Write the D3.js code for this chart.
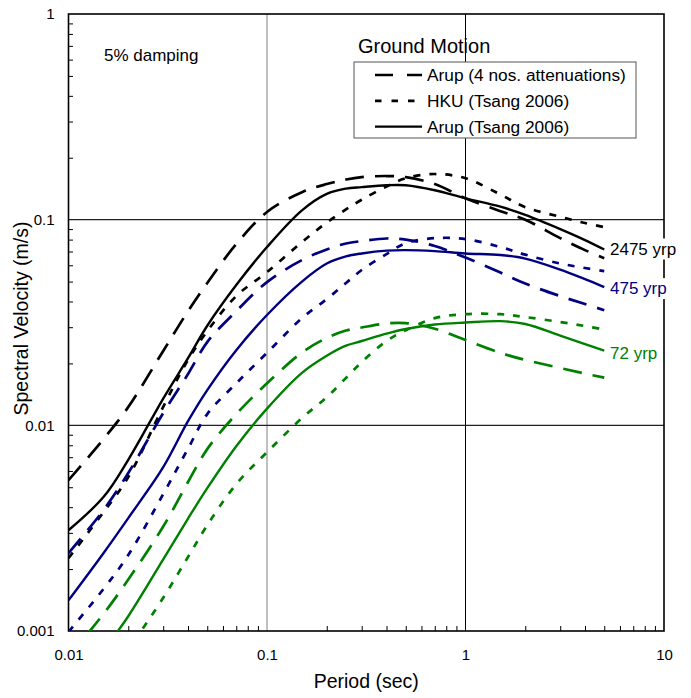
<!DOCTYPE html>
<html><head><meta charset="utf-8">
<script src="https://cdn.jsdelivr.net/npm/d3@7"></script>
<style>body{margin:0;background:#fff;} svg{display:block;font-family:"Liberation Sans",Arial,Helvetica,sans-serif;}</style>
</head><body><div id="chart"></div>
<script>
// ---- data (period in s, spectral velocity in m/s) ----
const periods = [0.01,0.015,0.02,0.03,0.04,0.05,0.07,0.1,0.15,0.2,0.25,0.3,0.4,0.5,0.7,1,1.5,2,3,4,5];

const arup4_2475   = [0.00541,0.00857,0.01227,0.0230,0.0359,0.0492,0.0761,0.109,0.136,0.149,0.1567,0.161,0.163,0.161,0.149,0.127,0.110,0.100,0.0813,0.0711,0.065];
const hku_2475     = [0.00226,0.00378,0.0056,0.0123,0.0208,0.0287,0.0425,0.0556,0.0778,0.0968,0.1122,0.125,0.145,0.159,0.1667,0.159,0.1325,0.115,0.1033,0.0963,0.092];
const arupTs_2475  = [0.00309,0.00448,0.0068,0.0135,0.0212,0.0305,0.0481,0.0736,0.111,0.1335,0.1416,0.144,0.147,0.147,0.139,0.127,0.1156,0.1055,0.090,0.0796,0.0716];

const arup4_475    = [0.00239,0.00387,0.00586,0.01147,0.01775,0.0254,0.0359,0.0497,0.0636,0.0716,0.0766,0.0787,0.081,0.080,0.0744,0.0654,0.0553,0.0489,0.0425,0.0389,0.0363];
const hku_475      = [0.00099,0.0016,0.00234,0.00463,0.0077,0.01134,0.016,0.0225,0.0332,0.0411,0.0492,0.0569,0.068,0.0769,0.0813,0.0805,0.0736,0.0676,0.0612,0.0582,0.0562];
const arupTs_475   = [0.00141,0.00239,0.00354,0.00626,0.01048,0.01484,0.0232,0.0344,0.0500,0.0612,0.0663,0.0685,0.0707,0.0711,0.0703,0.0685,0.0673,0.0647,0.0572,0.0514,0.047];

const arup4_72     = [0.00075,0.00121,0.00178,0.00322,0.0053,0.00766,0.01134,0.016,0.0226,0.0266,0.0289,0.0299,0.0313,0.0314,0.0295,0.026,0.0225,0.0208,0.019,0.01784,0.01706];
const hku_72       = [0.00032,0.000545,0.00081,0.00145,0.00229,0.00327,0.00518,0.0074,0.01084,0.0137,0.0170,0.0203,0.0257,0.029,0.0332,0.0347,0.0347,0.0336,0.0318,0.0304,0.0292];
const arupTs_72    = [0.00046,0.0008,0.00118,0.00223,0.00352,0.00495,0.00792,0.01206,0.01800,0.0218,0.0244,0.0257,0.0279,0.0294,0.0309,0.0316,0.0321,0.0311,0.0273,0.0248,0.0231];

const xTicks = [0.01,0.1,1,10];
const yTicks = [0.001,0.01,0.1,1];
const xTickLabels = ["0.01","0.1","1","10"];
const yTickLabels = ["0.001","0.01","0.1","1"];
const legendLabels = ["Arup (4 nos. attenuations)","HKU (Tsang 2006)","Arup (Tsang 2006)"];
const levelLabels = ["2475 yrp","475 yrp","72 yrp"];
const levelColors = ["#000000","#000080","#008000"];

// ---- layout ----
const W = 691, H = 698;
const L = 68.5, R = 664, T = 14, B = 631;
const x = d3.scaleLog().domain([0.01,10]).range([L,R]);
const y = d3.scaleLog().domain([0.001,1]).range([B,T]);

const svg = d3.select("#chart").append("svg").attr("width",W).attr("height",H);
svg.append("defs").append("clipPath").attr("id","clip")
  .append("rect").attr("x",L).attr("y",T).attr("width",R-L).attr("height",B-T);

// gridlines
svg.append("line").attr("x1",x(0.1)).attr("x2",x(0.1)).attr("y1",T).attr("y2",B).attr("stroke","#808080").attr("stroke-width",1);
svg.append("line").attr("x1",x(1)).attr("x2",x(1)).attr("y1",T).attr("y2",B).attr("stroke","#000").attr("stroke-width",1);
[0.1,0.01].forEach(v=>{
  svg.append("line").attr("x1",L).attr("x2",R).attr("y1",y(v)).attr("y2",y(v)).attr("stroke","#222").attr("stroke-width",1.3);
});

// minor ticks
const minor = [];
[-3,-2,-1].forEach(e=>{for(let k=2;k<=9;k++) minor.push(k*Math.pow(10,e));});
const minorX = [];
[-2,-1,0].forEach(e=>{for(let k=2;k<=9;k++) minorX.push(k*Math.pow(10,e));});
const gmy = svg.append("g").attr("transform",`translate(${L},0)`)
  .call(d3.axisLeft(y).tickValues(minor).tickSize(-4.5).tickFormat(""));
gmy.select(".domain").remove();
gmy.selectAll("line").attr("stroke","#000").attr("stroke-width",1);
const gmx = svg.append("g").attr("transform",`translate(0,${B})`)
  .call(d3.axisBottom(x).tickValues(minorX).tickSize(-5).tickFormat(""));
gmx.select(".domain").remove();
gmx.selectAll("line").attr("stroke","#000").attr("stroke-width",1);

// major labels
const gy = svg.append("g").attr("transform",`translate(${L},0)`)
  .call(d3.axisLeft(y).tickValues(yTicks).tickSize(0).tickPadding(14).tickFormat((d,i)=>yTickLabels[i]));
gy.select(".domain").remove();
gy.selectAll("text").attr("font-size",15).attr("font-family","Liberation Sans, Arial, sans-serif").attr("fill","#000");
const gx = svg.append("g").attr("transform",`translate(0,${B})`)
  .call(d3.axisBottom(x).tickValues(xTicks).tickSize(0).tickPadding(18).tickFormat((d,i)=>xTickLabels[i]));
gx.select(".domain").remove();
gx.selectAll("text").attr("font-size",15).attr("font-family","Liberation Sans, Arial, sans-serif").attr("fill","#000");

// frame
svg.append("rect").attr("x",L).attr("y",T).attr("width",R-L).attr("height",B-T)
  .attr("fill","none").attr("stroke","#000").attr("stroke-width",1.6);

// series
const styles = {dash:"19,11", dot:"7,9", solid:null};
const series = [
  {v:arup4_2475, c:0, s:"dash"},{v:hku_2475, c:0, s:"dot"},{v:arupTs_2475, c:0, s:"solid"},
  {v:arup4_475,  c:1, s:"dash"},{v:hku_475,  c:1, s:"dot"},{v:arupTs_475,  c:1, s:"solid"},
  {v:arup4_72,   c:2, s:"dash"},{v:hku_72,   c:2, s:"dot"},{v:arupTs_72,   c:2, s:"solid"}
];
const line = d3.line().x(d=>x(d[0])).y(d=>y(d[1])).curve(d3.curveCatmullRom.alpha(0.5));
const gl = svg.append("g").attr("clip-path","url(#clip)");
series.forEach(sr=>{
  gl.append("path").datum(periods.map((p,i)=>[p,sr.v[i]]))
    .attr("d",line).attr("fill","none").attr("stroke",levelColors[sr.c])
    .attr("stroke-width", sr.s==="solid"?2.4:2.7)
    .attr("stroke-dasharray", styles[sr.s]);
});

// level labels with white backgrounds
const ends = [arupTs_2475, arupTs_475, arupTs_72];
const offs = [5, 7, 8.5];
levelLabels.forEach((lab,i)=>{
  const g = svg.append("g");
  const t = g.append("text").attr("x",610).attr("y",y(ends[i][ends[i].length-1])+offs[i])
    .attr("font-size",17).attr("fill",levelColors[i]).text(lab);
  const bb = t.node().getBBox();
  g.insert("rect","text").attr("x",bb.x-1).attr("y",bb.y-1).attr("width",bb.width+2).attr("height",bb.height+2).attr("fill","#fff");
});

// annotations
svg.append("text").attr("x",104).attr("y",61).attr("font-size",17).text("5% damping");
svg.append("text").attr("x",358).attr("y",53).attr("font-size",20).text("Ground Motion");

// legend
const lg = svg.append("g");
lg.append("rect").attr("x",354).attr("y",62).attr("width",282).attr("height",76)
  .attr("fill","#fff").attr("stroke","#555").attr("stroke-width",1);
const legStyles = ["dash","dot","solid"];
const legDash = {dash:"18,14", dot:"6.5,10", solid:null};
legendLabels.forEach((lab,i)=>{
  const yy = 75 + i*25.8;
  lg.append("line").attr("x1",375).attr("x2",422).attr("y1",yy).attr("y2",yy)
    .attr("stroke","#000").attr("stroke-width",legStyles[i]==="solid"?2.4:2.7)
    .attr("stroke-dasharray",legDash[legStyles[i]]);
  lg.append("text").attr("x",427).attr("y",yy+6).attr("font-size",17.3).text(lab);
});

// axis titles
svg.append("text").attr("x",(L+R)/2).attr("y",688).attr("text-anchor","middle").attr("font-size",19.5).text("Period (sec)");
svg.append("text").attr("transform",`translate(28,${(T+B)/2 - 4}) rotate(-90)`).attr("text-anchor","middle").attr("font-size",19.5).text("Spectral Velocity (m/s)");
</script></body></html>
